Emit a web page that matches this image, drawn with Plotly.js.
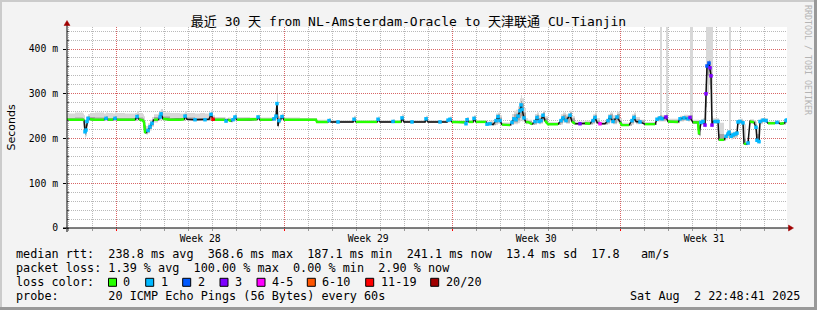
<!DOCTYPE html>
<html><head><meta charset="utf-8">
<script src="https://cdn.plot.ly/plotly-3.0.1.min.js"></script>
<style>html,body{margin:0;padding:0;background:#f3f3f3}#chart{width:817px;height:310px}</style>
</head><body><div id="chart"></div>
<script>
// ---------------- data ----------------
const startTime = Date.UTC(2025, 6, 3, 22, 48, 41); // Thu Jul 3 22:48:41 2025 (30 days back)
const hoursFromStart = [
0,8,16,17,18,19,20,21,23,28,
37,39,41,46,48,50,58,68,70,72,
76,77,78,79,81,83,85,87,91,93,
94,96,103,113,117,118,120,128,133,138,
142,144,146,148,158,159,161,164,166,168,
170,183,190,191,193,205,207,209,210,211,
212,214,215,217,233,249,250,261,262,264,
271,286,287,289,310,311,313,326,328,334,
335,337,345,358,359,361,373,380,381,383,
385,398,399,400,402,406,407,409,419,420,
423,426,429,431,433,435,443,445,447,449,
451,453,454,455,457,459,461,465,468,470,
472,474,476,478,481,491,494,496,499,503,
505,508,513,518,523,526,528,530,533,538,
541,543,546,550,553,555,562,565,567,569,
573,578,588,590,593,595,599,601,611,613,
617,621,623,626,631,632,634,636,638,639,
640,642,643,644,645,646,648,651,652,657,
659,661,662,664,666,668,670,671,673,676,
677,679,681,683,687,689,690,692,693,696,
699,701,708,710,713,717,719,720];
const medianRtt = [
242,242,242,240,215,219,238,245,243,242,
242,245,242,242,245,242,242,242,249,243,
240,236,214,213,218,226,234,242,242,248,
255,244,242,242,243,250,243,242,242,242,
243,254,243,242,242,239,242,239,242,248,
242,242,243,248,242,242,244,250,278,228,
240,244,249,242,242,242,237,237,240,237,
237,237,243,237,237,243,237,238,237,237,
246,237,237,237,244,237,237,237,241,243,
237,236,233,242,237,237,245,237,237,232,
233,231,240,249,240,231,230,236,244,242,
250,262,275,265,246,236,237,232,238,247,
238,240,252,240,232,232,240,246,240,252,
238,233,233,234,233,240,247,236,233,233,
240,248,238,248,236,230,230,240,247,238,
237,232,232,243,246,244,248,238,237,244,
246,244,247,236,236,209,236,238,230,300,
362,368.6,358,340,230,238,238,238,197,197,
205,210,214,205,208,210,212,237,238,235,
189,187.1,190,238,236,225,196,193,238,241,
240,234,234,236,233,234,240,241.1];
const lossCount = [
0,0,0,0,1,1,1,1,0,0,
0,1,0,0,1,0,0,0,1,0,
0,0,0,0,1,1,1,0,0,1,
1,0,0,0,0,1,0,1,0,1,
0,1,12,0,0,1,0,0,1,1,
0,0,0,1,0,0,1,1,1,0,
1,0,1,0,0,0,0,0,1,0,
1,0,1,0,0,1,0,1,0,0,
1,0,1,0,1,0,1,0,1,1,
0,0,1,1,0,0,1,0,0,1,
1,0,1,1,1,0,0,1,1,1,
1,1,1,1,1,0,0,0,1,1,
1,1,1,0,0,0,1,1,1,1,
0,0,3,0,0,1,1,0,4,0,
1,1,1,1,0,0,0,1,1,0,
1,0,0,1,1,1,3,0,0,1,
1,1,3,0,0,0,1,1,3,3,
2,2,3,3,3,0,1,1,0,0,
1,1,1,1,1,1,1,1,1,1,
0,0,1,0,0,1,1,1,1,1,
1,0,0,1,0,0,1,1];
const smokeMin = [
239,239,239,236,202,205,228,240,240,239,
239,240,239,239,240,239,239,239,241,239,
236,230,210,209,212,218,226,236,239,240,
242,240,239,239,239,242,239,239,239,239,
239,243,239,240,240,236,240,236,239,240,
240,240,240,242,240,240,240,242,226,224,
234,240,243,240,240,240,235,235,236,235,
235,235,237,235,235,237,235,235,235,235,
238,235,235,235,237,235,235,235,236,237,
235,234,230,236,235,235,237,235,235,229,
230,229,230,233,230,229,228,230,232,232,
234,238,240,238,236,232,234,230,230,235,
232,233,238,233,230,230,231,236,233,238,
233,231,231,231,231,232,236,232,231,231,
232,236,232,236,231,228,228,231,236,232,
234,230,230,238,238,238,240,234,234,238,
239,238,239,233,233,205,230,232,225,240,
300,320,310,290,225,233,233,233,195,195,
198,201,203,198,200,201,203,230,232,230,
186,185,186,233,233,218,190,188,232,236,
235,232,232,233,231,231,234,235];
const smokeMax = [
256,258,256,252,240,238,250,255,257,258,
256,258,257,256,258,257,256,257,261,257,
254,250,238,228,234,242,248,254,256,262,
266,258,257,256,257,261,257,256,257,256,
257,263,252,248,247,246,247,245,250,256,
248,247,248,253,247,247,252,262,300,250,
250,250,256,247,246,246,242,241,246,241,
241,241,251,241,241,249,241,243,241,241,
254,241,241,241,251,241,241,241,246,249,
241,240,242,248,241,241,252,241,241,238,
240,238,256,258,252,236,235,255,262,264,
272,290,297,290,268,246,242,237,255,258,
252,255,262,250,237,237,254,258,254,262,
250,238,238,240,238,254,258,246,238,238,
254,258,252,260,246,235,235,254,258,248,
242,237,237,250,500,252,500,244,242,251,
253,252,500,242,242,240,243,245,245,500,
500,500,500,500,500,245,245,245,235,202,
212,218,500,214,215,217,220,243,244,241,
232,192,196,243,241,238,225,200,244,246,
245,238,238,240,237,238,244,245];
const smokeLowMid = [
241,241,241,238,208,212,233,242,241,241,
241,242,241,241,242,241,241,241,244,241,
238,233,212,211,214,221,229,239,241,243,
246,241,241,241,241,245,241,241,241,241,
241,246,241,241,241,238,241,238,240,243,
241,241,241,244,241,241,242,245,245,226,
237,242,245,241,241,241,236,236,238,236,
236,236,239,236,236,239,236,236,236,236,
241,236,236,236,239,236,236,236,238,239,
236,235,231,238,236,236,240,236,236,230,
231,230,234,238,234,230,229,232,236,236,
240,246,250,246,239,234,235,231,233,239,
234,236,243,236,231,231,234,239,235,243,
235,232,232,232,232,235,239,234,232,232,
235,240,234,240,233,229,229,234,239,234,
235,231,231,240,241,240,243,236,235,240,
242,240,242,234,234,207,233,235,228,270,
340,350,340,320,228,235,235,235,196,196,
201,205,207,201,203,205,206,233,235,232,
187,186,188,235,234,220,192,190,235,238,
237,233,233,234,232,232,236,237];
const smokeHighMid = [
246,247,246,244,232,230,245,250,248,247,
246,250,246,246,250,246,246,246,254,247,
245,242,230,222,228,236,243,248,246,254,
260,249,246,246,247,255,247,246,246,246,
247,258,247,245,244,243,244,242,246,252,
245,244,245,251,244,244,248,256,282,240,
245,247,252,244,244,244,239,239,243,239,
239,239,247,239,239,246,239,240,239,239,
250,239,239,239,248,239,239,239,244,246,
239,238,238,245,239,239,249,239,239,235,
236,234,250,254,247,233,232,248,254,256,
262,276,284,278,258,240,239,234,248,253,
246,250,258,245,234,234,248,253,249,258,
245,235,235,236,235,248,253,240,235,235,
248,254,246,255,240,232,232,248,253,243,
240,234,234,247,252,249,253,241,240,248,
250,248,252,239,239,230,240,242,238,330,
372,375,368,355,250,241,242,242,210,199,
209,214,218,210,212,214,216,240,241,238,
200,189,193,241,238,232,210,197,241,244,
243,236,236,238,235,236,242,243];

const weekStarts = ['2025-07-06','2025-07-13','2025-07-20','2025-07-27'];
const weekMids = ['2025-07-09 12:00','2025-07-16 12:00','2025-07-23 12:00','2025-07-30 12:00'];
const weekLabels = ['Week 28','Week 29','Week 30','Week 31'];
const yTickVals = [0,100,200,300,400];
const yTickText = ['0','100 m','200 m','300 m','400 m'];

const lossLabels = ['0','1','2','3','4-5','6-10','11-19','20/20'];
const lossColors = ['#26ff00','#00b8ff','#0059ff','#7e00ff','#ff00ff','#ff5500','#ff0000','#a10000'];
const lossUpper  = [0,1,2,3,5,10,19,20];

const titleText = '最近 30 天 from NL-Amsterdam-Oracle to 天津联通 CU-Tianjin';
const statLine1 = 'median rtt:  238.8 ms avg  368.6 ms max  187.1 ms min  241.1 ms now  13.4 ms sd  17.8   am/s';
const statLine2 = 'packet loss: 1.39 % avg  100.00 % max  0.00 % min  2.90 % now';
const statLine3 = 'loss color:';
const statLine4 = 'probe:       20 ICMP Echo Pings (56 Bytes) every 60s';
const dateText = 'Sat Aug  2 22:48:41 2025';
const rangeStart = '2025-07-03 22:48:41';
const rangeEnd = '2025-08-02 22:48:41';

// ---------------- helpers ----------------
const W = 817, H = 310, ML = 67, MR = 30, MT = 27, MB = 82;
const PW = W - ML - MR, PH = H - MT - MB;
const px = p => (p - ML) / PW;
const py = p => (H - MB - p) / PH;
const nb = s => s.replace(/ /g, '\u00a0');
const fmt = d => d.toISOString().slice(0, 19).replace('T', ' ');
const times = hoursFromStart.map(h => fmt(new Date(startTime + h * 3600000)));
const lossClass = n => lossUpper.findIndex(u => n <= u);

const MONO = 'DejaVu Sans Mono, Noto Sans CJK SC, monospace';

// ---------------- traces ----------------
const traces = [];
const smokeBase = {x: times, mode: 'lines', line: {width: 0, shape: 'hv'}, hoverinfo: 'skip', showlegend: false};
traces.push(Object.assign({}, smokeBase, {y: smokeMin}));
traces.push(Object.assign({}, smokeBase, {y: smokeMax, fill: 'tonexty', fillcolor: '#d8d8d8'}));
traces.push(Object.assign({}, smokeBase, {y: smokeLowMid}));
traces.push(Object.assign({}, smokeBase, {y: smokeHighMid, fill: 'tonexty', fillcolor: '#a6a6a6'}));
traces.push({x: times, y: medianRtt, mode: 'lines', line: {color: '#111111', width: 1.5}, hoverinfo: 'skip', showlegend: false});
lossColors.forEach((c, k) => {
  const ys = medianRtt.map((v, i) => lossClass(lossCount[i]) === k ? v : null);
  if (k === 0) {
    traces.push({x: times, y: ys, mode: 'lines', line: {color: c, width: 2.4}, connectgaps: false, hoverinfo: 'skip', showlegend: false});
  } else {
    traces.push({x: times, y: ys, mode: 'markers', marker: {color: c, size: 3.5, symbol: 'square', line: {width: 0}}, hoverinfo: 'skip', showlegend: false});
  }
});
// label axis carrier
traces.push({x: [rangeStart], y: [null], xaxis: 'x2', mode: 'markers', hoverinfo: 'skip', showlegend: false});

// ---------------- shapes ----------------
const shapes = [];
const rect = (x0, y0, x1, y1, fill, lc, lw) => ({type: 'rect', xref: 'paper', yref: 'paper',
  x0: px(x0), x1: px(x1), y0: py(y1), y1: py(y0), fillcolor: fill, line: {color: lc || fill, width: lw || 0}, layer: 'above'});
// frame
shapes.push(rect(0, 0, W, 2, '#cbcbcb'));
shapes.push(rect(0, 0, 2, H, '#cbcbcb'));
shapes.push(rect(0, H - 3, W, H, '#999999'));
shapes.push(rect(W - 3, 0, W, H, '#999999'));
// axis lines
shapes.push({type: 'line', xref: 'paper', yref: 'paper', x0: px(67), x1: px(67), y0: py(232), y1: py(25), line: {color: '#000', width: 1}, layer: 'above'});
shapes.push({type: 'line', xref: 'paper', yref: 'paper', x0: px(63), x1: px(789), y0: py(228), y1: py(228), line: {color: '#000', width: 1}, layer: 'above'});
// arrows
shapes.push({type: 'path', xref: 'paper', yref: 'paper', layer: 'above', fillcolor: '#a00000', line: {color: '#a00000', width: 0.5},
  path: `M ${px(64)} ${py(25.5)} L ${px(70)} ${py(25.5)} L ${px(67)} ${py(20.5)} Z`});
shapes.push({type: 'path', xref: 'paper', yref: 'paper', layer: 'above', fillcolor: '#a00000', line: {color: '#a00000', width: 0.5},
  path: `M ${px(788.5)} ${py(225)} L ${px(788.5)} ${py(231)} L ${px(793.5)} ${py(228)} Z`});
// loss colour boxes
const boxX = [108.5, 145.7, 182.7, 220, 257, 307.3, 365.7, 430.7];
const labelX = [122, 159.5, 196.5, 233.5, 270.5, 321, 379.5, 444.5];
boxX.forEach((bx, k) => shapes.push(rect(bx, 278.3, bx + 8, 286.3, lossColors[k], '#000', 1)));

// ---------------- annotations ----------------
const ann = [];
const txt = (t, x, y, opt) => Object.assign({text: nb(t), xref: 'paper', yref: 'paper', x: px(x), y: py(y),
  xanchor: 'left', yanchor: 'middle', showarrow: false, font: {family: MONO, size: 11.8, color: '#000'}, borderpad: 0}, opt || {});
ann.push(txt(statLine1, 15, 254.3));
ann.push(txt(statLine2, 15, 268.3));
ann.push(txt(statLine3, 15, 282.3));
ann.push(txt(statLine4, 15, 296.2));
ann.push(txt(dateText, 801, 296.2, {xanchor: 'right'}));
lossLabels.forEach((l, k) => ann.push(txt(l, labelX[k], 282.3)));
ann.push({text: 'Seconds', xref: 'paper', yref: 'paper', x: px(10.5), y: py(128), textangle: -90, showarrow: false,
  xanchor: 'center', yanchor: 'middle', font: {family: 'DejaVu Sans, sans-serif', size: 11, color: '#000'}});
ann.push({text: nb('RRDTOOL / TOBI OETIKER'), xref: 'paper', yref: 'paper', x: px(808), y: py(60), textangle: 90, showarrow: false,
  xanchor: 'center', yanchor: 'middle', font: {family: MONO, size: 8.3, color: '#b4b4b4'}});

// ---------------- layout ----------------
const gridRed = 'rgba(255,0,0,0.45)';
const gridGrey = 'rgba(128,128,128,0.55)';
const layout = {
  width: W, height: H,
  margin: {l: ML, r: MR, t: MT, b: MB, pad: 0},
  paper_bgcolor: '#f3f3f3', plot_bgcolor: '#ffffff',
  showlegend: false,
  title: {text: titleText, xref: 'container', yref: 'container', x: 0.5, y: 1 - 21 / H, xanchor: 'center', yanchor: 'middle',
    font: {family: MONO, size: 13, color: '#000'}},
  xaxis: {type: 'date', range: [rangeStart, rangeEnd], tickmode: 'array', tickvals: weekStarts, showticklabels: false,
    showgrid: true, gridcolor: gridRed, griddash: '1px,1px', gridwidth: 1, zeroline: false, showline: false,
    ticks: 'outside', ticklen: 2, tickcolor: '#ff0000',
    minor: {tick0: '2025-07-06', dtick: 86400000, showgrid: true, gridcolor: gridGrey, griddash: '1px,1px', gridwidth: 1,
      ticks: 'outside', ticklen: 2, tickcolor: '#999'}},
  xaxis2: {type: 'date', overlaying: 'x', anchor: 'y', side: 'bottom', range: [rangeStart, rangeEnd], tickmode: 'array',
    tickvals: weekMids, ticktext: weekLabels, showgrid: false, zeroline: false, showline: false, ticks: '',
    tickfont: {family: MONO, size: 9.75, color: '#000'}, ticklabelstandoff: 3},
  yaxis: {range: [0, PH / 0.4475], tickmode: 'array', tickvals: yTickVals, ticktext: yTickText,
    showgrid: true, gridcolor: gridRed, griddash: '1px,1px', gridwidth: 1, zeroline: false, showline: false,
    ticks: 'outside', ticklen: 3, tickcolor: '#000', tickfont: {family: MONO, size: 9.75, color: '#000'}, ticklabelstandoff: 3,
    minor: {dtick: 20, showgrid: true, gridcolor: gridGrey, griddash: '1px,1px', gridwidth: 1, ticks: 'inside', ticklen: 2, tickcolor: '#666'}},
  shapes: shapes,
  annotations: ann
};

Plotly.newPlot('chart', traces, layout, {staticPlot: true, displayModeBar: false});
</script>
</body></html>
